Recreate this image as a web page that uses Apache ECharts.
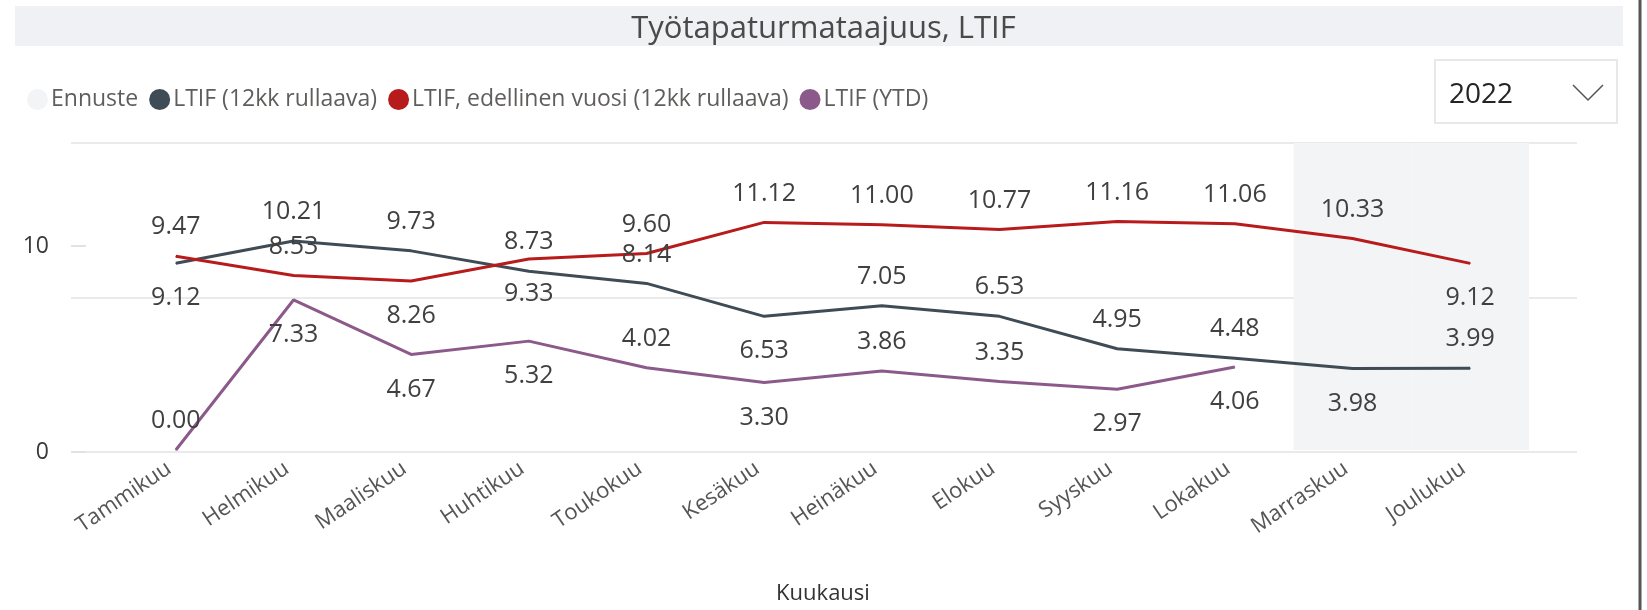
<!DOCTYPE html>
<html>
<head>
<meta charset="utf-8">
<title>Työtapaturmataajuus, LTIF</title>
<script src="https://cdn.jsdelivr.net/npm/echarts@6/dist/echarts.min.js"></script>
<style>
  html, body { margin: 0; padding: 0; background: #fff; }
  #chart { width: 1647px; height: 610px; }
</style>
</head>
<body>
<div id="chart"></div>
<script>
/*
 * Työtapaturmataajuus (LTIF) kuukausittain, vuosi 2022
 */

// kategoriat
var kuukaudet = ['Tammikuu', 'Helmikuu', 'Maaliskuu', 'Huhtikuu', 'Toukokuu', 'Kesäkuu',
  'Heinäkuu', 'Elokuu', 'Syyskuu', 'Lokakuu', 'Marraskuu', 'Joulukuu'];

// sarjat
var ltif12kk = [9.12, 10.21, 9.73, 8.73, 8.14, 6.53, 7.05, 6.53, 4.95, 4.48, 3.98, 3.99];
var ltifEdellinen = [9.47, 8.53, 8.26, 9.33, 9.60, 11.12, 11.00, 10.77, 11.16, 11.06, 10.33, 9.12];
var ltifYtd = [0.00, 7.33, 4.67, 5.32, 4.02, 3.30, 3.86, 3.35, 2.97, 4.06];
// ennuste = varjostettu alue (marras-joulukuu)
var ennuste = [null, null, null, null, null, null, null, null, null, null, 15, 15];

// y-akseli
var yMax = 15;
var gridStep = 7.5;
var labelStep = 10;

// arvotarrojen paikat (t = yläpuolella, b = alapuolella)
var pos12kk = ['b', 't', 't', 't', 't', 'b', 't', 't', 't', 't', 'b', 't'];
var posEdellinen = ['t', 't', 'b', 'b', 't', 't', 't', 't', 't', 't', 't', 'b'];
var posYtd = ['t', 'b', 'b', 'b', 't', 'b', 't', 't', 'b', 'b'];

var FONT = "'Segoe UI', 'Open Sans', sans-serif";

function labelItems(values, pos) {
  return values.map(function(v, i) {
    var top = pos[i] === 't';
    return { value: v, label: { position: top ? 'top' : 'bottom', distance: top ? 16 : 22 } };
  });
}

function lineSeries(name, color, values, pos) {
  return {
    name: name,
    type: 'line',
    xAxisIndex: 1,
    yAxisIndex: 2,
    data: labelItems(values, pos),
    symbol: 'circle',
    symbolSize: 1,
    itemStyle: { color: color },
    lineStyle: { color: color, width: 3 },
    label: {
      show: true,
      fontSize: 25,
      fontFamily: FONT,
      color: '#404040',
      formatter: function(p) { return p.value.toFixed(2); }
    },
    z: 3
  };
}

var options = {
  animation: false,
  backgroundColor: '#fff',
  title: {
    text: 'Työtapaturmataajuus, LTIF',
    left: 'center',
    top: 9,
    textStyle: { fontSize: 31, fontWeight: 'normal', color: '#4a4a4a', fontFamily: FONT }
  },
  legend: {
    left: 22,
    top: 83,
    icon: 'circle',
    itemWidth: 21,
    itemHeight: 21,
    itemGap: 11,
    textStyle: { fontSize: 23, color: '#605E5C', fontFamily: FONT, padding: [0, 0, 0, -2] },
    data: ['Ennuste', 'LTIF (12kk rullaava)', 'LTIF, edellinen vuosi (12kk rullaava)', 'LTIF (YTD)']
  },
  graphic: [
    { type: 'rect', z: -1, shape: { x: 15, y: 6, width: 1608, height: 40 }, style: { fill: '#F0F1F4' } },
    { type: 'line', shape: { x1: 1640, y1: 0, x2: 1640, y2: 610 }, style: { stroke: '#555', lineWidth: 3 } },
    { type: 'rect', shape: { x: 1435, y: 60, width: 182, height: 63 }, style: { fill: '#fff', stroke: '#E8E8E8', lineWidth: 2 } },
    { type: 'text', x: 1449, y: 95, style: { text: '2022', fontSize: 28, fontFamily: FONT, fill: '#252423', textVerticalAlign: 'middle' } },
    { type: 'polyline', shape: { points: [[1573, 85], [1588, 100], [1603, 85]] }, style: { stroke: '#555', lineWidth: 1.5, fill: null } }
  ],
  grid: [
    { left: 71, right: 70, top: 143, bottom: 158 },
    { left: 117, right: 118, top: 143, bottom: 158 }
  ],
  xAxis: [
    { type: 'value', gridIndex: 0, min: 0, max: 1, show: false },
    {
      type: 'category',
      gridIndex: 1,
      data: kuukaudet,
      boundaryGap: true,
      axisLine: { show: false },
      axisTick: { show: false },
      axisLabel: { rotate: 34, fontSize: 22, color: '#555', margin: 12, interval: 0, fontFamily: FONT, padding: [0, 8, 0, 0] },
      name: 'Kuukausi',
      nameLocation: 'middle',
      nameGap: 133,
      nameTextStyle: { fontSize: 22, color: '#333', fontFamily: FONT }
    }
  ],
  yAxis: [
    {
      type: 'value', gridIndex: 0, position: 'left', min: 0, max: yMax, interval: gridStep,
      axisLine: { show: false }, axisTick: { show: false }, axisLabel: { show: false },
      splitLine: { show: true, lineStyle: { color: '#EAEAEA', width: 2 } }
    },
    {
      type: 'value', gridIndex: 0, position: 'left', min: 0, max: yMax, interval: labelStep,
      axisLine: { show: false },
      axisTick: { show: true, inside: true, length: 15, lineStyle: { color: '#E2E2E2', width: 2 } },
      splitLine: { show: false },
      axisLabel: { fontSize: 23, color: '#3a3a3a', margin: 22, showMaxLabel: false, fontFamily: FONT }
    },
    { type: 'value', gridIndex: 1, min: 0, max: yMax, show: false, splitLine: { show: false } }
  ],
  series: [
    {
      name: 'Ennuste',
      type: 'bar',
      xAxisIndex: 1,
      yAxisIndex: 2,
      data: ennuste,
      barWidth: '100%',
      itemStyle: { color: '#F3F4F6' },
      silent: true,
      z: 1
    },
    lineSeries('LTIF (12kk rullaava)', '#3F4C56', ltif12kk, pos12kk),
    lineSeries('LTIF, edellinen vuosi (12kk rullaava)', '#B81B1B', ltifEdellinen, posEdellinen),
    lineSeries('LTIF (YTD)', '#8C5A8A', ltifYtd, posYtd)
  ]
};

function initECharts(el, opts) {
  var chart = echarts.init(el);
  chart.setOption(opts);
  return chart;
}

initECharts(document.getElementById('chart'), options);
</script>
</body>
</html>
